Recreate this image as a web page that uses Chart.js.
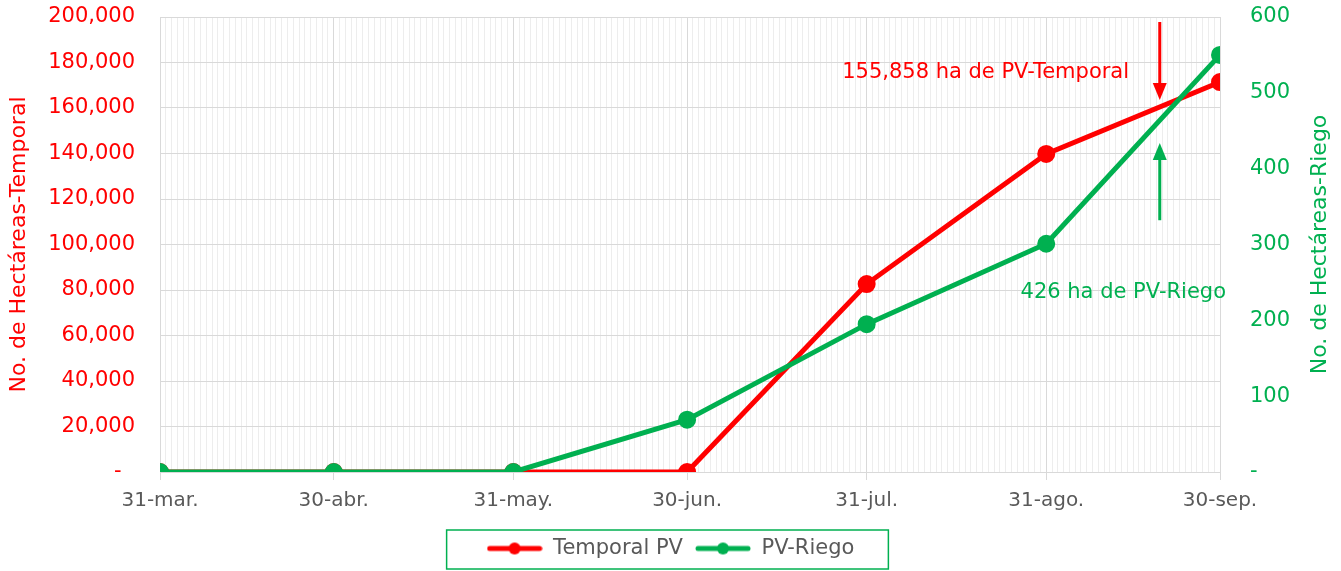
<!DOCTYPE html>
<html>
<head>
<meta charset="utf-8">
<script src="https://cdn.jsdelivr.net/npm/chart.js@4.4.0/dist/chart.umd.min.js"></script>
<style>
  body { margin: 0; background: #fff; }
  #wrap { width: 1341px; height: 571px; position: relative; }
</style>
</head>
<body>
<div id="wrap"><canvas id="pvChart"></canvas></div>
<script>
// fechas de corte y etiquetas del eje X
const dates = ['2023-03-31', '2023-04-30', '2023-05-31', '2023-06-30', '2023-07-31', '2023-08-31', '2023-09-30'];
const dateLabels = ['31-mar.', '30-abr.', '31-may.', '30-jun.', '31-jul.', '31-ago.', '30-sep.'];

// hectáreas acumuladas
const temporalPV = [0, 0, 0, 0, 82600, 139800, 171400];
const riegoPV = [0, 0, 0, 69, 195, 301, 550];

// rangos de los ejes
const temporalMax = 200000, temporalStep = 20000;
const riegoMax = 600, riegoStep = 100;

// totales de las anotaciones
const temporalTotal = 155858;
const riegoTotal = 426;

const RED = '#ff0000';
const GREEN = '#00b050';
const GRAY = '#595959';
const FONT = 'DejaVu Sans';

const dayOf = d => Math.round((Date.parse(d) - Date.parse(dates[0])) / 86400000);
const days = dates.map(dayOf);
const lastDay = days[days.length - 1];

// marcador de leyenda: linea con punto
function legendMarker(color) {
  const c = document.createElement('canvas');
  c.width = 56; c.height = 14;
  const g = c.getContext('2d');
  g.strokeStyle = color; g.lineWidth = 5; g.lineCap = 'round';
  g.beginPath(); g.moveTo(3, 7); g.lineTo(53, 7); g.stroke();
  g.fillStyle = color;
  g.beginPath(); g.arc(28, 7, 6, 0, Math.PI * 2); g.fill();
  return c;
}

// sin relleno de etiquetas arriba/abajo, el area queda donde la ponemos
function noPad(scale) {
  scale.paddingTop = 0;
  scale.paddingBottom = 0;
}

// flechas y textos
const notesPlugin = {
  id: 'notes',
  afterDatasetsDraw(chart) {
    const { ctx, scales } = chart;
    const x = scales.x, yl = scales.y, yr = scales.y1;
    ctx.save();
    ctx.font = '21px ' + FONT;
    ctx.textBaseline = 'middle';

    ctx.fillStyle = RED;
    ctx.textAlign = 'right';
    ctx.fillText(temporalTotal.toLocaleString('en-US') + ' ha de PV-Temporal', x.getPixelForValue(167.3), yl.getPixelForValue(175400));
    arrow(ctx, x.getPixelForValue(172.6), yl.getPixelForValue(197800), yl.getPixelForValue(163500), RED);

    ctx.fillStyle = GREEN;
    ctx.textAlign = 'center';
    ctx.fillText(riegoTotal + ' ha de PV-Riego', x.getPixelForValue(166.3), yr.getPixelForValue(236));
    arrow(ctx, x.getPixelForValue(172.6), yr.getPixelForValue(332), yr.getPixelForValue(434), GREEN);

    // titulo del eje derecho (lectura de abajo hacia arriba)
    ctx.font = '22px ' + FONT;
    ctx.translate(1320, (chart.chartArea.top + chart.chartArea.bottom) / 2);
    ctx.rotate(-Math.PI / 2);
    ctx.textAlign = 'center';
    ctx.fillStyle = GREEN;
    ctx.fillText('No. de Hectáreas-Riego', 0, 0);
    ctx.restore();
  },
  afterDraw(chart) {
    // recuadro de la leyenda
    const boxes = chart.legend.legendHitBoxes;
    if (!boxes || !boxes.length) return;
    const left = Math.min(...boxes.map(b => b.left)) - 40;
    const right = Math.max(...boxes.map(b => b.left + b.width)) + 34;
    const ctx = chart.ctx;
    ctx.save();
    ctx.strokeStyle = GREEN;
    ctx.lineWidth = 1.5;
    ctx.strokeRect(left, 530, right - left, 39);
    ctx.restore();
  }
};

function arrow(ctx, px, from, to, color) {
  const dir = to > from ? 1 : -1;
  ctx.save();
  ctx.strokeStyle = color; ctx.fillStyle = color; ctx.lineWidth = 3;
  ctx.beginPath(); ctx.moveTo(px, from); ctx.lineTo(px, to - dir * 14); ctx.stroke();
  ctx.beginPath();
  ctx.moveTo(px, to);
  ctx.lineTo(px - 7, to - dir * 17);
  ctx.lineTo(px + 7, to - dir * 17);
  ctx.closePath(); ctx.fill();
  ctx.restore();
}

const ctx = document.getElementById('pvChart').getContext('2d');
const pvChart = new Chart(ctx, {
  type: 'line',
  data: {
    datasets: [{
      label: 'Temporal PV',
      data: days.map((d, i) => ({ x: d, y: temporalPV[i] })),
      borderColor: RED,
      backgroundColor: RED,
      borderWidth: 5,
      pointRadius: 6.5,
      pointHoverRadius: 6.5,
      yAxisID: 'y',
      order: 2
    }, {
      label: 'PV-Riego',
      data: days.map((d, i) => ({ x: d, y: riegoPV[i] })),
      borderColor: GREEN,
      backgroundColor: GREEN,
      borderWidth: 5,
      pointRadius: 6.5,
      pointHoverRadius: 6.5,
      yAxisID: 'y1',
      order: 1
    }]
  },
  options: {
    responsive: true,
    maintainAspectRatio: false,
    animation: false,
    layout: { padding: { top: 17, bottom: 2, left: 0, right: 0 } },
    plugins: {
      tooltip: { enabled: false },
      legend: {
        position: 'bottom',
        labels: {
          usePointStyle: true,
          pointStyleWidth: 56,
          padding: 12,
          color: GRAY,
          font: { family: FONT, size: 21 },
          generateLabels(chart) {
            return chart.data.datasets.map((ds, i) => ({
              text: ds.label,
              pointStyle: legendMarker(ds.borderColor),
              fillStyle: ds.borderColor,
              strokeStyle: ds.borderColor,
              fontColor: GRAY,
              lineWidth: 0,
              datasetIndex: i
            }));
          }
        }
      }
    },
    scales: {
      x: {
        type: 'linear',
        min: 0,
        max: lastDay,
        afterBuildTicks(scale) {
          const t = [];
          for (let d = 0; d <= lastDay; d++) t.push({ value: d });
          scale.ticks = t;
        },
        afterFit(scale) { scale.height = 54; },
        ticks: {
          autoSkip: false,
          maxRotation: 0,
          padding: 9,
          color: GRAY,
          font: { family: FONT, size: 20 },
          callback: v => { const i = days.indexOf(v); return i >= 0 ? dateLabels[i] : ''; }
        },
        grid: {
          color: c => days.includes(c.tick && c.tick.value) ? '#d9d9d9' : '#ededed',
          tickColor: c => days.includes(c.tick && c.tick.value) ? '#d9d9d9' : 'rgba(0,0,0,0)',
          tickLength: 8,
          lineWidth: 1
        },
        border: { color: '#d9d9d9' }
      },
      y: {
        position: 'left',
        min: 0,
        max: temporalMax,
        afterFit(scale) { scale.width = 160; noPad(scale); },
        ticks: {
          stepSize: temporalStep,
          padding: 25,
          color: RED,
          font: { family: FONT, size: 21 },
          callback: v => v === 0 ? '-\u2007' : v.toLocaleString('en-US')
        },
        grid: { color: '#d9d9d9', drawTicks: false },
        border: { display: false },
        title: {
          display: true,
          text: 'No. de Hectáreas-Temporal',
          color: RED,
          font: { family: FONT, size: 22 },
          padding: { top: 6, bottom: 0 }
        }
      },
      y1: {
        position: 'right',
        min: 0,
        max: riegoMax,
        afterFit(scale) { scale.width = 121; noPad(scale); },
        ticks: {
          stepSize: riegoStep,
          padding: 30,
          color: GREEN,
          font: { family: FONT, size: 21 },
          callback: v => v === 0 ? '-' : v
        },
        grid: { display: false, drawTicks: false },
        border: { display: false }
      }
    }
  },
  plugins: [notesPlugin]
});
</script>
</body>
</html>
